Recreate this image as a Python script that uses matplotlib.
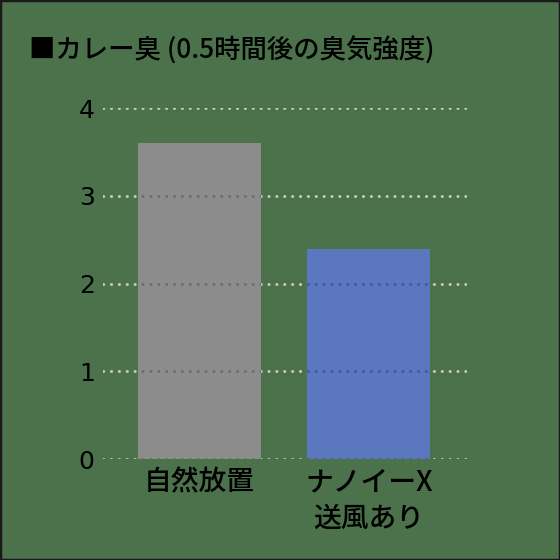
import matplotlib
matplotlib.use("Agg")
import matplotlib.pyplot as plt
from matplotlib.patches import Rectangle

plt.rcParams['font.family'] = ['Noto Sans CJK JP', 'DejaVu Sans']

title = "■カレー臭 (0.5時間後の臭気強度)"
categories = ["自然放置", "ナノイーX\n送風あり"]
values = [3.6, 2.4]
bar_colors = ["#8c8c8c", "#5b78bf"]
grid_over_colors = ["#6c6c6c", "#42589e"]
yticks = [0, 1, 2, 3, 4]

bg = "#4b724b"
fig = plt.figure(figsize=(5.6, 5.6), dpi=100, facecolor=bg)
fig.patches.append(Rectangle((0, 0), 1, 1, transform=fig.transFigure,
                             fill=False, edgecolor="#1a1a1a", linewidth=2.5))
ax = fig.add_axes([0.184, 0.180, 0.650, 0.627])
ax.set_facecolor(bg)

x = list(range(len(categories)))
bars = ax.bar(x, values, width=0.728, color=bar_colors, zorder=2)

dot_style = dict(linestyle=(0, (0.1, 2.6)), dash_capstyle='round', linewidth=2.1)
for y in yticks:
    ax.axhline(y, color="#cacaca", zorder=1, **dot_style)
    for b, c in zip(bars, grid_over_colors):
        ln = ax.axhline(y, color=c, zorder=3, **dot_style)
        ln.set_clip_path(b)

ax.set_xlim(-0.57, 1.58)
ax.set_ylim(0, 4)
ax.set_yticks(yticks)
ax.set_yticklabels([str(t) for t in yticks], fontsize=18, color="black",
                   family=['Liberation Sans Narrow', 'DejaVu Sans'])
ax.set_xticks(x)
ax.set_xticklabels(categories, fontsize=20, color="black", linespacing=1.3,
                   fontweight='medium')
ax.tick_params(axis='both', length=0)
ax.tick_params(axis='y', pad=6)
ax.tick_params(axis='x', pad=6)
for s in ax.spines.values():
    s.set_visible(False)

fig.text(0.052, 0.91, title, fontsize=19, color="black", ha="left", va="center",
         fontweight='medium')

fig.savefig("out.png", dpi=100, facecolor=bg)
